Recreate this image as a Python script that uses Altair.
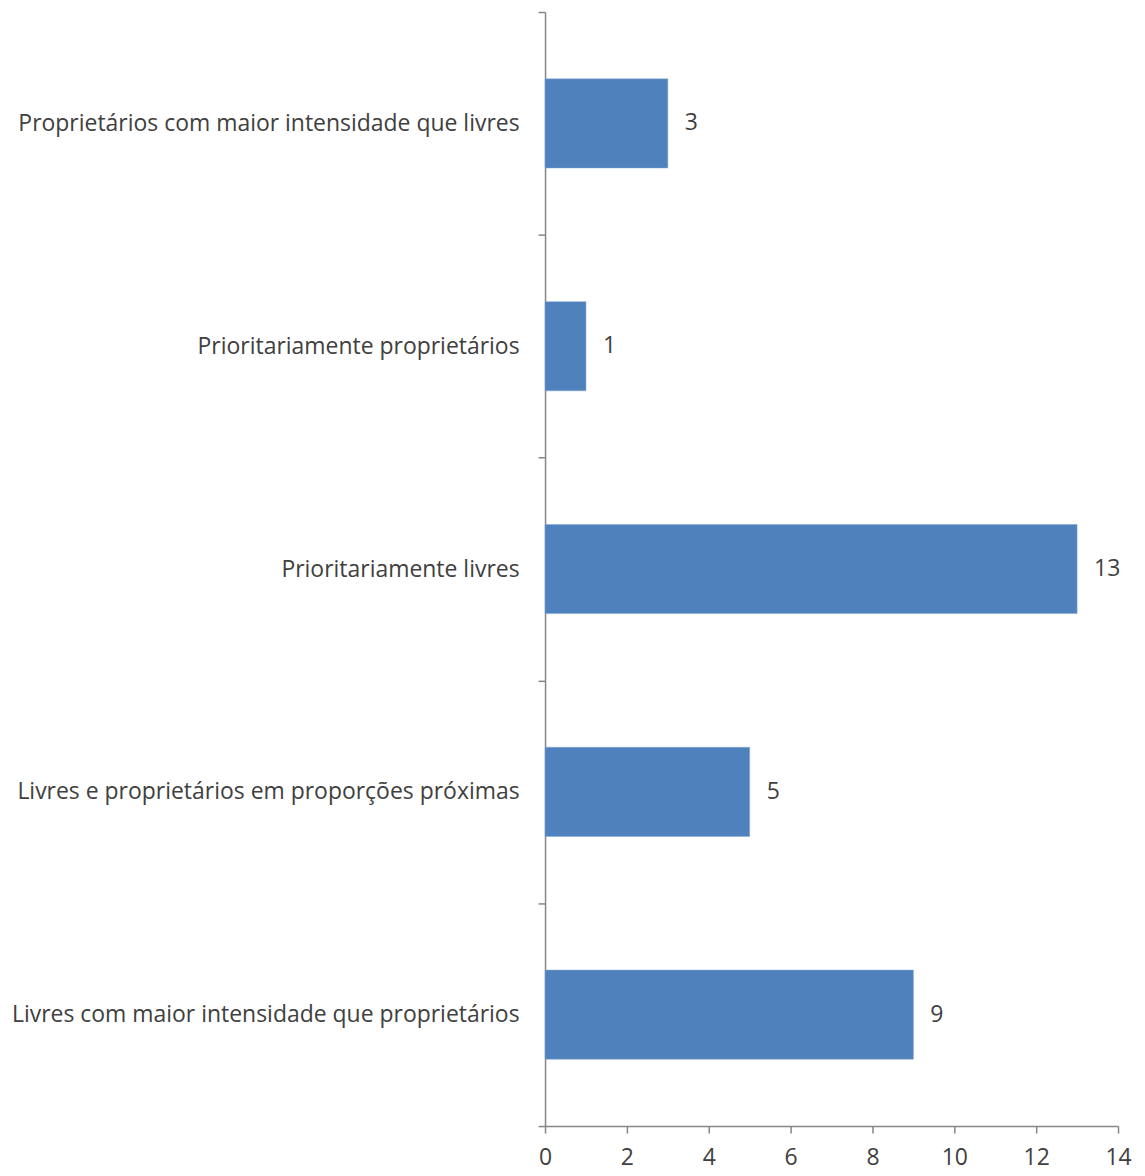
import altair as alt
import pandas as pd

categories = [
    "Proprietários com maior intensidade que livres",
    "Prioritariamente proprietários",
    "Prioritariamente livres",
    "Livres e proprietários em proporções próximas",
    "Livres com maior intensidade que proprietários",
]
values = [3, 1, 13, 5, 9]

df = pd.DataFrame({"cat": categories, "val": values})

FONT = "Open Sans"
TXT = "#404040"
AX = "#868686"

y = alt.Y(
    "cat:N",
    sort=categories,
    title=None,
    scale=alt.Scale(paddingInner=0, paddingOuter=0),
    axis=alt.Axis(
        tickBand="extent",
        domainColor=AX,
        tickColor=AX,
        domainWidth=1.5,
        tickWidth=1.5,
        tickSize=7,
        labelFont=FONT,
        labelFontSize=23,
        labelColor=TXT,
        labelPadding=19,
        labelLimit=1000,
        grid=False,
    ),
)
x = alt.X(
    "val:Q",
    title=None,
    scale=alt.Scale(domain=[0, 14], nice=False),
    axis=alt.Axis(
        values=[0, 2, 4, 6, 8, 10, 12, 14],
        domainColor=AX,
        tickColor=AX,
        domainWidth=1.5,
        tickWidth=1.5,
        tickSize=7,
        labelFont=FONT,
        labelFontSize=23,
        labelColor=TXT,
        labelPadding=14,
        labelFlush=False,
        grid=False,
    ),
)

bars = alt.Chart(df).mark_bar(
    color="#4F81BD", stroke="#7FA6D6", strokeWidth=0.5,
    height=alt.RelativeBandSize(0.4),
).encode(y=y, x=x)
labels = alt.Chart(df).mark_text(
    align="left", baseline="middle", dx=17, font=FONT, fontSize=23, color=TXT
).encode(y=alt.Y("cat:N", sort=categories), x=alt.X("val:Q"), text="val:Q")

chart = (
    alt.layer(bars, labels)
    .properties(
        width=574,
        height=1116,
        background="white",
        padding={"left": 2, "top": -8, "right": 5, "bottom": 6},
    )
    .configure_view(stroke=None)
)

chart.save("out.html", embed_options={"renderer": "svg", "actions": False})
